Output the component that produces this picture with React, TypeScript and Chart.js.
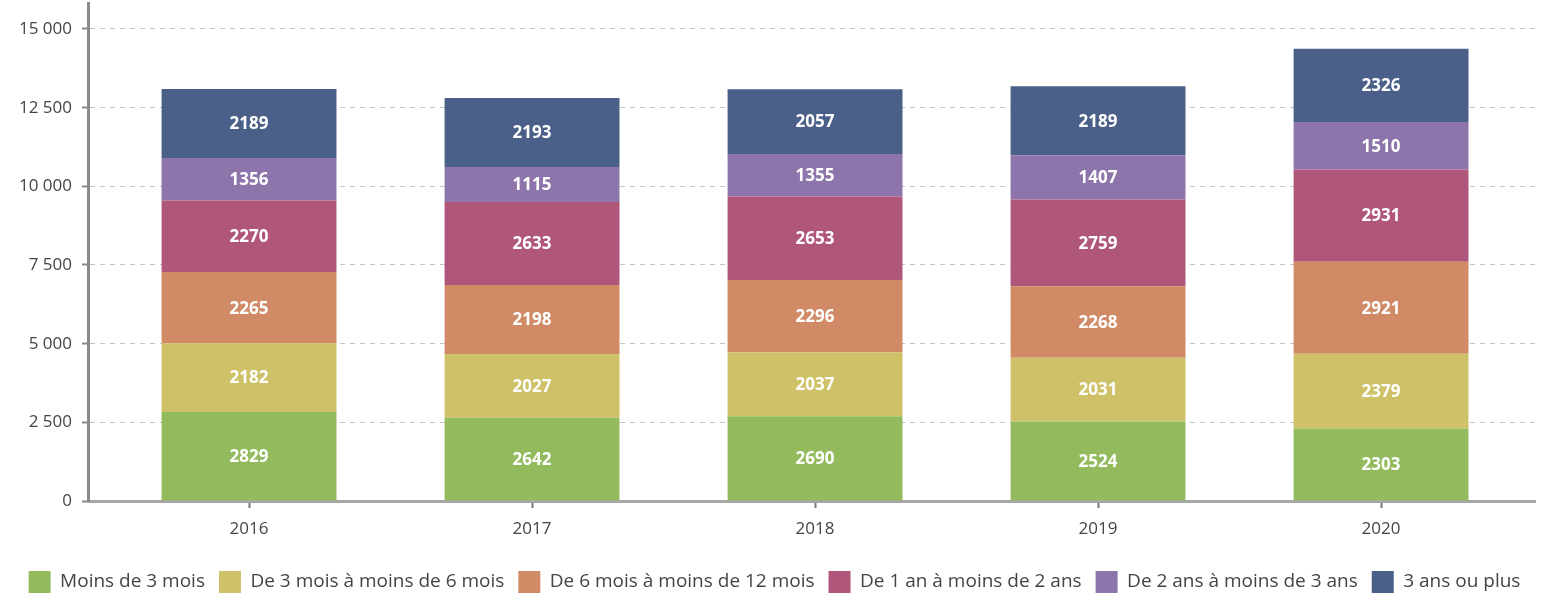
import React, { useEffect, useRef } from "react";
import { Chart, registerables } from "chart.js";

Chart.register(...registerables);

const years = ["2016", "2017", "2018", "2019", "2020"];
const seriesNames = [
  "Moins de 3 mois",
  "De 3 mois à moins de 6 mois",
  "De 6 mois à moins de 12 mois",
  "De 1 an à moins de 2 ans",
  "De 2 ans à moins de 3 ans",
  "3 ans ou plus",
];
const moins3mois = [2829, 2642, 2690, 2524, 2303];
const de3a6mois = [2182, 2027, 2037, 2031, 2379];
const de6a12mois = [2265, 2198, 2296, 2268, 2921];
const de1a2ans = [2270, 2633, 2653, 2759, 2931];
const de2a3ans = [1356, 1115, 1355, 1407, 1510];
const plus3ans = [2189, 2193, 2057, 2189, 2326];
const yTicks = [0, 2500, 5000, 7500, 10000, 12500, 15000];

const seriesValues = [moins3mois, de3a6mois, de6a12mois, de1a2ans, de2a3ans, plus3ans];
const colors = ["#93bb5e", "#cfc167", "#d08b66", "#b0567b", "#8d74aa", "#4a6088"];

const fmt = (v: number) => String(v).replace(/\B(?=(\d{3})+(?!\d))/g, " ");

const labelPlugin = {
  id: "segLabels",
  afterDatasetsDraw(chart: any) {
    const ctx = chart.ctx;
    ctx.save();
    ctx.font = "bold 17px 'Open Sans'";
    ctx.fillStyle = "#ffffff";
    ctx.textAlign = "center";
    ctx.textBaseline = "middle";
    chart.data.datasets.forEach((ds: any, di: number) => {
      const meta = chart.getDatasetMeta(di);
      meta.data.forEach((el: any, i: number) => {
        const p = el.getProps(["x", "y", "base"], true);
        ctx.fillText(String(ds.data[i]), p.x, (p.y + p.base) / 2 + 1);
      });
    });
    ctx.restore();
  },
};

const legendShift = {
  id: "legendShift",
  afterLayout(chart: any) {
    if (chart.legend) {
      chart.legend.left += 7;
      chart.legend.right += 7;
    }
  },
};

export default function App() {
  const ref = useRef<HTMLCanvasElement>(null);
  useEffect(() => {
    if (!ref.current) return;
    Chart.defaults.font.family = "'Open Sans'";
    const chart = new Chart(ref.current, {
      type: "bar",
      data: {
        labels: years,
        datasets: seriesNames.map((name, i) => ({
          label: name,
          data: seriesValues[i],
          backgroundColor: colors[i],
          borderWidth: 0,
          categoryPercentage: 1,
          barPercentage: 0.618,
        })),
      },
      options: {
        animation: false,
        responsive: false,
        maintainAspectRatio: false,
        layout: { padding: { top: 3, right: 16, left: 0, bottom: -6 } },
        plugins: {
          legend: {
            position: "bottom",
            labels: {
              boxWidth: 22,
              boxHeight: 22,
              padding: 14,
              color: "#444",
              font: { size: 19 },
            },
          },
          tooltip: { enabled: false },
        },
        scales: {
          x: {
            type: "linear",
            stacked: true,
            offset: false,
            min: 2015.431,
            max: 2020.544,
            afterFit: (s: any) => {
              s.height = 56;
              s.paddingLeft = 0;
              s.paddingRight = 0;
            },
            ticks: {
              stepSize: 1,
              includeBounds: false,
              color: "#444",
              font: { size: 17 },
              padding: 11,
              callback: (v: any) => String(v),
            },
            grid: {
              offset: false,
              drawOnChartArea: false,
              drawTicks: true,
              tickLength: 7,
              tickColor: "#777",
              tickWidth: 2,
            },
            border: { color: "#a6a6a6", width: 3 },
          },
          y: {
            stacked: true,
            min: 0,
            max: 15826,
            afterFit: (s: any) => {
              s.width = 88;
              s.paddingTop = 0;
              s.paddingBottom = 0;
            },
            afterBuildTicks: (s: any) => {
              s.ticks = yTicks.map((v) => ({ value: v }));
            },
            ticks: {
              includeBounds: false,
              color: "#444",
              font: { size: 17 },
              padding: 10,
              callback: (v: any) => fmt(Number(v)),
            },
            grid: {
              color: "#c4c4c4",
              lineWidth: 1,
              tickLength: 6,
              tickColor: "#888",
              tickWidth: 2,
              tickBorderDash: [],
            },
            border: { color: "#8a8a8a", width: 3, dash: [5, 5] },
          },
        },
      } as any,
      plugins: [labelPlugin, legendShift],
    });
    return () => chart.destroy();
  }, []);
  return (
    <div style={{ position: "fixed", left: 0, top: 0, width: 1551, height: 597 }}>
      <canvas ref={ref} width={1551} height={597} />
    </div>
  );
}
